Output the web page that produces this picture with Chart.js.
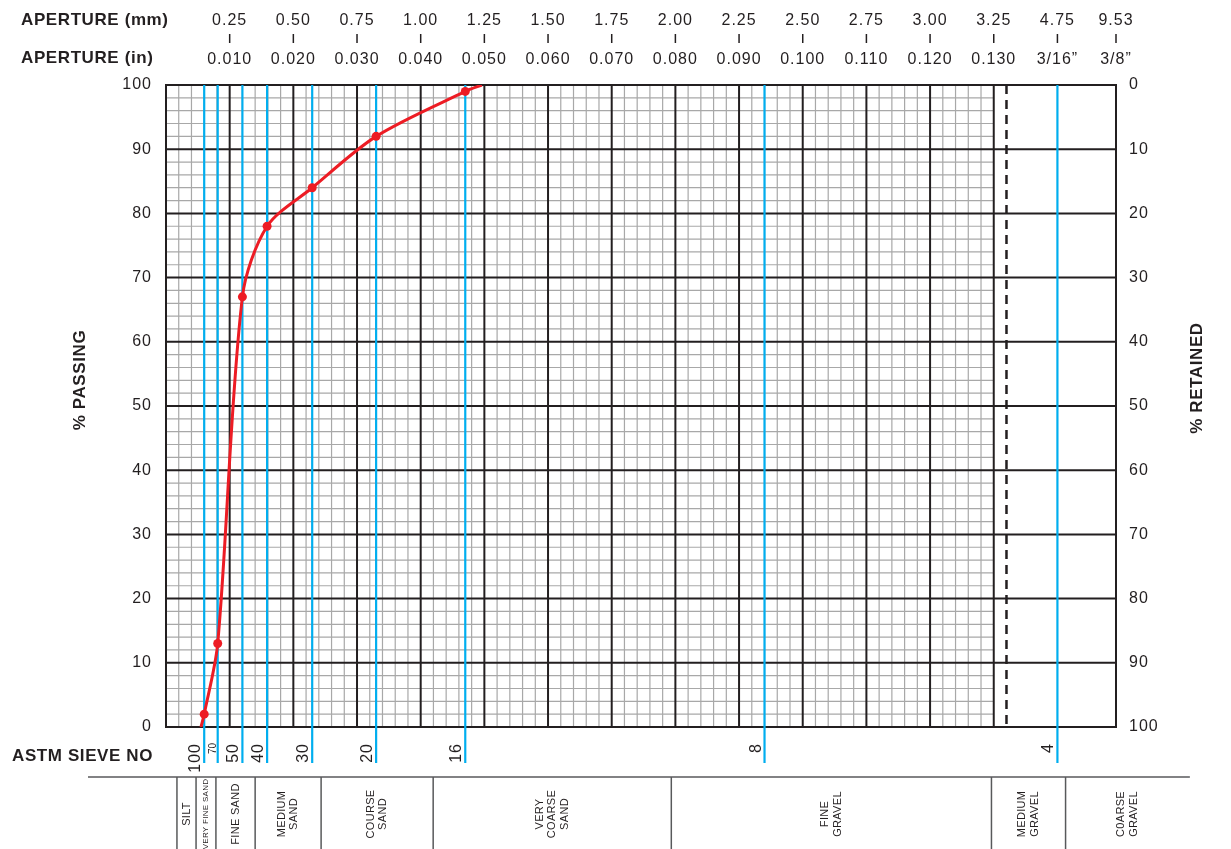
<!DOCTYPE html>
<html>
<head>
<meta charset="utf-8">
<title>Sieve analysis - grading curve</title>
<script src="https://cdn.jsdelivr.net/npm/chart.js@4.4.0/dist/chart.umd.min.js"></script>
<style>
    html, body { margin: 0; padding: 0; background: #fff; }
    .chart-container { position: relative; width: 1231px; height: 849px; }
</style>
</head>
<body>
<div class="chart-container"><canvas id="gradingChart"></canvas></div>
<script>
// x axis is linear in mm up to 3.25, after that the scale is broken:
// 4.75 mm sits at 3.5 and 9.53 mm at the right edge
const apertureMm = ['0.25', '0.50', '0.75', '1.00', '1.25', '1.50', '1.75', '2.00', '2.25', '2.50', '2.75', '3.00', '3.25', '4.75', '9.53'];
const apertureIn = ['0.010', '0.020', '0.030', '0.040', '0.050', '0.060', '0.070', '0.080', '0.090', '0.100', '0.110', '0.120', '0.130', '3/16\u201d', '3/8\u201d'];
const aperturePos = [0.25, 0.5, 0.75, 1, 1.25, 1.5, 1.75, 2, 2.25, 2.5, 2.75, 3, 3.25, 3.5, 3.73];

const sieveNo = ['100', '70', '50', '40', '30', '20', '16', '8', '4'];
const sievePos = [0.15, 0.203, 0.30, 0.397, 0.574, 0.825, 1.175, 2.35, 3.5];

// % passing on the sieves that were used (100 .. 16)
const passingPct = [2, 13, 67, 78, 84, 92, 99];
const curveStart = { x: 0.1375, y: 0 };
const curveEnd = { x: 1.24, y: 100 };

const classNames = [['SILT'], ['VERY FINE SAND'], ['FINE SAND'], ['MEDIUM', 'SAND'], ['COURSE', 'SAND'],
    ['VERY', 'COARSE', 'SAND'], ['FINE', 'GRAVEL'], ['MEDIUM', 'GRAVEL'], ['C0ARSE', 'GRAVEL']];
const classBounds = [0.043, 0.118, 0.196, 0.35, 0.609, 1.049, 1.984, 3.241, 3.532, 4.02];

const gridEnd = 3.25;
const breakPos = 3.30;

const ink = '#231f20',
      blue = '#00aeef',
      red = '#ed1c24';
const font = (size, bold) => `${bold ? 'bold ' : ''}${size}px "Liberation Sans", Arial, sans-serif`;

function seg(ctx, x1, y1, x2, y2) {
    ctx.beginPath();
    ctx.moveTo(x1, y1);
    ctx.lineTo(x2, y2);
    ctx.stroke();
}

function put(ctx, str, x, y, o) {
    ctx.save();
    ctx.font = o.font;
    ctx.letterSpacing = o.spacing || '0px';
    ctx.fillStyle = ink;
    ctx.textAlign = o.align || 'left';
    ctx.textBaseline = o.baseline || 'alphabetic';
    ctx.translate(x, y);
    if (o.rotate) ctx.rotate(-Math.PI / 2);
    ctx.fillText(str, 0, 0);
    ctx.restore();
}

const gridPaper = {
    id: 'gridPaper',
    beforeDraw(chart) {
        chart.ctx.letterSpacing = '1px';
    },
    beforeDatasetsDraw(chart) {
        const { ctx, chartArea: a, scales: { x, y } } = chart;
        const gx = x.getPixelForValue(gridEnd);
        ctx.save();
        // fine grid, only on the linear part
        ctx.strokeStyle = '#a8a8a8';
        ctx.lineWidth = 1.2;
        const n = Math.round(gridEnd / 0.05);
        for (let i = 1; i < n; i++) {
            if (i % 5 === 0) continue;
            const px = x.getPixelForValue(i * 0.05);
            seg(ctx, px, a.top, px, a.bottom);
        }
        for (let p = 2; p < 100; p += 2) {
            if (p % 10 === 0) continue;
            const py = y.getPixelForValue(p);
            seg(ctx, a.left, py, gx, py);
        }
        // heavy lines
        ctx.strokeStyle = ink;
        ctx.lineWidth = 2;
        for (let i = 1; i <= Math.round(gridEnd / 0.25); i++) {
            const px = x.getPixelForValue(i * 0.25);
            seg(ctx, px, a.top, px, a.bottom);
        }
        for (let p = 10; p < 100; p += 10) {
            const py = y.getPixelForValue(p);
            seg(ctx, a.left, py, a.right, py);
        }
        ctx.strokeRect(a.left, a.top, a.right - a.left, a.bottom - a.top);
        // scale break
        ctx.lineWidth = 2.5;
        ctx.setLineDash([9, 6]);
        const bx = x.getPixelForValue(breakPos);
        seg(ctx, bx, a.top, bx, a.bottom);
        ctx.setLineDash([]);
        // sieve lines
        ctx.strokeStyle = blue;
        ctx.lineWidth = 2.2;
        sievePos.forEach(v => {
            const px = x.getPixelForValue(v);
            seg(ctx, px, a.top, px, a.bottom + 36);
        });
        ctx.restore();
    },
    afterDraw(chart) {
        const { ctx, chartArea: a, scales: { x } } = chart;
        const head = { font: font(17, true), spacing: '0.6px' };
        const num = { font: font(16), spacing: '1px', align: 'center' };

        put(ctx, 'APERTURE (mm)', 21, 25, head);
        put(ctx, 'APERTURE (in)', 21, 63, head);
        ctx.save();
        ctx.strokeStyle = ink;
        ctx.lineWidth = 1.5;
        aperturePos.forEach((v, i) => {
            const px = x.getPixelForValue(v);
            put(ctx, apertureMm[i], px, 25, num);
            put(ctx, apertureIn[i], px, 64, num);
            seg(ctx, px, 34, px, 43);
        });
        ctx.restore();

        // sieve numbers
        put(ctx, 'ASTM SIEVE NO', 12, 761, head);
        sieveNo.forEach((s, i) => {
            const px = x.getPixelForValue(sievePos[i]);
            const small = s === '70';
            put(ctx, s, px - (small ? 2 : 4), a.bottom + 16, {
                font: font(small ? 10 : 16), spacing: small ? '0px' : '1px', align: 'right', rotate: true
            });
        });

        // soil classes
        const top = 777, mid = 814;
        ctx.save();
        ctx.strokeStyle = '#58595b';
        ctx.lineWidth = 1.5;
        seg(ctx, 88, top, x.getPixelForValue(classBounds[classBounds.length - 1]), top);
        classBounds.slice(0, -1).forEach(v => {
            const px = x.getPixelForValue(v);
            seg(ctx, px, top, px, 849);
        });
        ctx.restore();
        classNames.forEach((lines, i) => {
            const cx = (x.getPixelForValue(classBounds[i]) + x.getPixelForValue(classBounds[i + 1])) / 2;
            const size = lines[0] === 'VERY FINE SAND' ? 8 : 11;
            const lh = 12.5;
            lines.forEach((t, k) => {
                put(ctx, t, cx + (k - (lines.length - 1) / 2) * lh, mid, {
                    font: font(size), spacing: '0.3px', align: 'center', baseline: 'middle', rotate: true
                });
            });
        });

        // axis titles
        put(ctx, '% PASSING', 80, 380, { ...head, align: 'center', baseline: 'middle', rotate: true });
        put(ctx, '% RETAINED', 1197, 378, { ...head, align: 'center', baseline: 'middle', rotate: true });
    }
};

const curve = [curveStart, ...passingPct.map((p, i) => ({ x: sievePos[i], y: p })), curveEnd];

new Chart(document.getElementById('gradingChart'), {
    type: 'line',
    data: {
        datasets: [{
            label: '% passing',
            data: curve,
            borderColor: red,
            borderWidth: 3,
            backgroundColor: red,
            pointBackgroundColor: red,
            pointBorderWidth: 0,
            pointRadius: ctx => (ctx.dataIndex === 0 || ctx.dataIndex === curve.length - 1) ? 0 : 4.5,
            tension: 0.3,
            fill: false
        }]
    },
    options: {
        responsive: true,
        maintainAspectRatio: false,
        animation: false,
        layout: { padding: { top: 85, bottom: 122, left: 0, right: 0 } },
        plugins: { legend: { display: false }, tooltip: { enabled: false } },
        scales: {
            x: { type: 'linear', min: 0, max: 3.73, display: false },
            y: {
                position: 'left', min: 0, max: 100,
                ticks: { stepSize: 10, padding: 14, color: ink, font: { family: '"Liberation Sans", Arial, sans-serif', size: 16 } },
                grid: { display: false, drawTicks: false },
                border: { display: false },
                afterFit: scale => { scale.width = 166; }
            },
            y2: {
                position: 'right', min: 0, max: 100, reverse: true,
                ticks: { stepSize: 10, padding: 13, color: ink, font: { family: '"Liberation Sans", Arial, sans-serif', size: 16 } },
                grid: { display: false, drawTicks: false },
                border: { display: false },
                afterFit: scale => { scale.width = 115; }
            }
        }
    },
    plugins: [gridPaper]
});
</script>
</body>
</html>
